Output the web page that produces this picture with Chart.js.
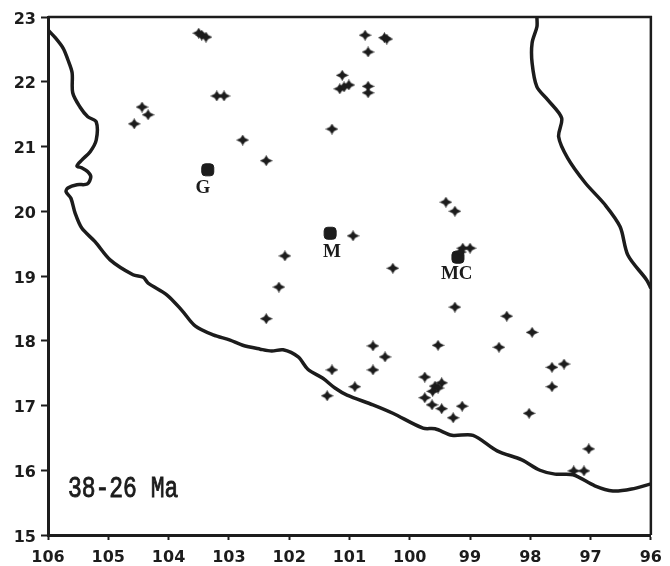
<!DOCTYPE html>
<html>
<head>
<meta charset="utf-8">
<title>38-26 Ma</title>
<script src="https://cdn.jsdelivr.net/npm/chart.js@4/dist/chart.umd.min.js"></script>
<style>
  html, body { margin: 0; padding: 0; background: #fff; }
  canvas { display: block; }
</style>
</head>
<body>
<canvas id="mapChart" width="670" height="566"></canvas>
<script>
// Values (longitude W, latitude N)
const lonTicks = [106, 105, 104, 103, 102, 101, 100, 99, 98, 97, 96];
const latTicks = [23, 22, 21, 20, 19, 18, 17, 16, 15];

const sampleLon = [
  103.50, 103.45, 103.38, 103.20, 103.08, 104.44, 104.34, 104.57, 102.77, 102.38,
  102.07, 101.29, 100.74, 100.42, 100.38, 100.69, 101.12, 101.16, 101.09, 101.01,
  100.69, 100.69, 99.40, 99.25, 100.94, 100.28, 99.12, 99.00, 102.17, 102.38,
  101.29, 101.37, 99.25, 98.39, 97.97, 98.52, 99.53, 100.61, 100.41, 100.61,
  100.91, 99.75, 97.64, 97.44, 97.64, 99.47, 99.58, 99.53, 99.62, 99.75,
  99.63, 99.47, 99.13, 99.28, 98.02, 97.03, 97.28, 97.11, 99.16
];
const sampleLat = [
  22.75, 22.72, 22.69, 21.78, 21.78, 21.61, 21.49, 21.35, 21.10, 20.78,
  19.31, 21.27, 22.72, 22.68, 22.66, 22.46, 22.10, 21.89, 21.92, 21.95,
  21.93, 21.83, 20.14, 20.00, 19.62, 19.12, 19.43, 19.43, 18.83, 18.34,
  17.55, 17.15, 18.52, 18.38, 18.13, 17.90, 17.93, 17.92, 17.75, 17.55,
  17.29, 17.44, 17.59, 17.64, 17.29, 17.35, 17.30, 17.27, 17.22, 17.12,
  17.01, 16.95, 16.99, 16.81, 16.88, 16.33, 15.99, 15.99, 19.37
];

const cityNames = ["G", "M", "MC"];
const cityLon = [103.35, 101.32, 99.20];
const cityLat = [20.64, 19.66, 19.29];
const cityLabelLon = [103.43, 101.29, 99.22];
const cityLabelLat = [20.36, 19.37, 19.03];

const ageLabel = "38-26 Ma";
const ageLabelLon = 105.67;
const ageLabelLat = 15.71;

const westCoastLon = [
  106.00, 105.88, 105.75, 105.67, 105.60, 105.59, 105.47, 105.34, 105.20, 105.20,
  105.30, 105.44, 105.52, 105.44, 105.34, 105.29, 105.35, 105.52, 105.67, 105.70,
  105.62, 105.55, 105.44, 105.22, 104.97, 104.59, 104.42, 104.34, 104.03, 103.78,
  103.56, 103.26, 102.98, 102.77, 102.48, 102.29, 102.10, 101.85, 101.69, 101.44,
  101.24, 101.04, 100.61, 100.28, 99.78, 99.58, 99.30, 98.95, 98.55, 98.14,
  97.84, 97.59, 97.29, 96.93, 96.63, 96.32, 96.00
];
const westCoastLat = [
  22.80, 22.68, 22.52, 22.34, 22.14, 21.83, 21.61, 21.46, 21.38, 21.10,
  20.92, 20.79, 20.70, 20.67, 20.61, 20.53, 20.42, 20.41, 20.36, 20.30,
  20.20, 19.97, 19.74, 19.53, 19.25, 19.02, 18.98, 18.89, 18.71, 18.47,
  18.23, 18.09, 18.01, 17.93, 17.87, 17.84, 17.86, 17.75, 17.56, 17.42,
  17.27, 17.16, 17.01, 16.88, 16.65, 16.64, 16.54, 16.54, 16.30, 16.16,
  16.00, 15.94, 15.93, 15.76, 15.68, 15.71, 15.79
];

const eastCoastLon = [97.89, 97.89, 97.97, 97.97, 97.89, 97.71, 97.48, 97.53, 97.38, 97.09, 96.76, 96.51, 96.38, 96.07, 96.00];
const eastCoastLat = [23.00, 22.85, 22.60, 22.29, 21.92, 21.72, 21.44, 21.15, 20.82, 20.44, 20.10, 19.76, 19.32, 18.94, 18.81];

const INK = "#1c1c1c";

function toPoints(xs, ys) {
  return xs.map((x, i) => ({ x: x, y: ys[i] }));
}

// Fat four-pointed star, the plotted sample symbol
function makeStar() {
  const c = document.createElement("canvas");
  c.width = 13;
  c.height = 11;
  const g = c.getContext("2d");
  g.fillStyle = INK;
  g.beginPath();
  g.moveTo(0, 5.5);
  g.lineTo(4.2, 3.6);
  g.lineTo(5, 2.5);
  g.lineTo(6.5, 0);
  g.lineTo(8, 2.5);
  g.lineTo(8.8, 3.6);
  g.lineTo(13, 5.5);
  g.lineTo(8.8, 7.4);
  g.lineTo(8, 8.5);
  g.lineTo(6.5, 11);
  g.lineTo(5, 8.5);
  g.lineTo(4.2, 7.4);
  g.closePath();
  g.fill();
  return c;
}

// Frame around the plot plus the text inside the map
const mapExtras = {
  id: "mapExtras",
  afterDatasetsDraw(chart) {
    const { ctx, chartArea, scales } = chart;
    ctx.save();
    ctx.strokeStyle = INK;
    ctx.lineWidth = 2.5;
    ctx.beginPath();
    ctx.moveTo(chartArea.left, chartArea.top);
    ctx.lineTo(chartArea.right, chartArea.top);
    ctx.lineTo(chartArea.right, chartArea.bottom);
    ctx.stroke();

    ctx.fillStyle = INK;
    ctx.textBaseline = "middle";
    ctx.textAlign = "center";
    ctx.font = "bold 19px 'Liberation Serif'";
    cityNames.forEach((name, i) => {
      ctx.fillText(name, scales.x.getPixelForValue(cityLabelLon[i]), scales.y.getPixelForValue(cityLabelLat[i]));
    });

    // the age label is a tall, narrow typewriter face in the original
    ctx.translate(scales.x.getPixelForValue(ageLabelLon), scales.y.getPixelForValue(ageLabelLat));
    ctx.scale(1, 1.3);
    ctx.textAlign = "left";
    ctx.font = "23px 'Liberation Mono'";
    ctx.lineWidth = 0.7;
    ctx.fillText(ageLabel, 0, 0);
    ctx.strokeText(ageLabel, 0, 0);
    ctx.restore();
  }
};

document.addEventListener("DOMContentLoaded", () => {
  const ctx = document.getElementById("mapChart");
  const tickFont = { family: "'DejaVu Sans'", size: 16, weight: "bold" };

  new Chart(ctx, {
    type: "scatter",
    data: {
      datasets: [
        {
          label: "West coast",
          data: toPoints(westCoastLon, westCoastLat),
          showLine: true,
          borderColor: INK,
          borderWidth: 3.5,
          tension: 0.3,
          pointRadius: 0
        },
        {
          label: "East coast",
          data: toPoints(eastCoastLon, eastCoastLat),
          showLine: true,
          borderColor: INK,
          borderWidth: 3.5,
          tension: 0.3,
          pointRadius: 0
        },
        {
          label: "Samples",
          data: toPoints(sampleLon, sampleLat),
          pointStyle: makeStar(),
          pointRadius: 6
        },
        {
          label: "Cities",
          data: toPoints(cityLon, cityLat),
          pointStyle: "rectRounded",
          pointRadius: 7,
          backgroundColor: INK,
          borderColor: INK
        }
      ]
    },
    options: {
      responsive: false,
      animation: false,
      layout: { padding: { top: 17, right: 19, left: 0, bottom: 0 } },
      plugins: {
        legend: { display: false },
        tooltip: { enabled: false }
      },
      scales: {
        x: {
          type: "linear",
          reverse: true,
          min: 96,
          max: 106,
          afterBuildTicks: (scale) => { scale.ticks = lonTicks.map((v) => ({ value: v })); },
          afterFit: (scale) => { scale.height = 31; },
          border: { color: INK, width: 3 },
          grid: { drawOnChartArea: false, color: INK, tickLength: 5, tickWidth: 2 },
          ticks: { color: INK, font: tickFont, padding: 8, maxRotation: 0, autoSkip: false }
        },
        y: {
          type: "linear",
          min: 15,
          max: 23,
          afterBuildTicks: (scale) => { scale.ticks = latTicks.map((v) => ({ value: v })); },
          afterFit: (scale) => { scale.width = 48; },
          border: { color: INK, width: 3 },
          grid: { drawOnChartArea: false, color: INK, tickLength: 7, tickWidth: 2 },
          ticks: { color: INK, font: tickFont, padding: 5, labelOffset: 2.5, autoSkip: false }
        }
      }
    },
    plugins: [mapExtras]
  });
});
</script>
</body>
</html>
